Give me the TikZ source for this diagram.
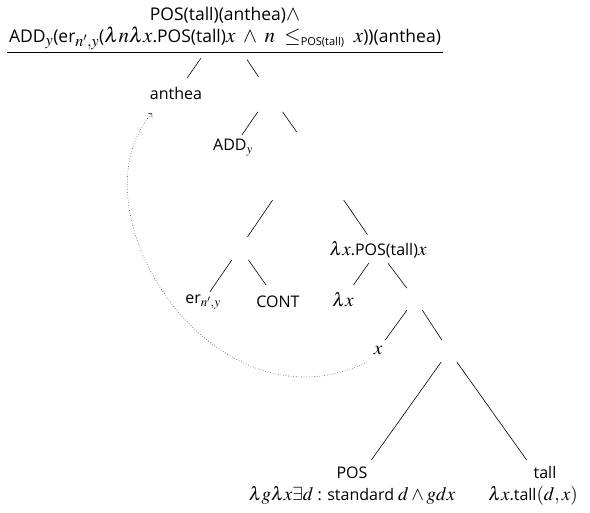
\documentclass[tikz,border=0pt]{standalone}
\usepackage{amsmath}
\usepackage{mathptmx}
\usepackage{fontspec}
\setmainfont{Open Sans}
\DeclareMathSizes{16}{19}{13}{10}
\DeclareMathSizes{17.5}{21}{16}{12}
\usetikzlibrary{calc,arrows.meta}
\newcommand{\possub}{\mbox{\fontsize{11}{11}\selectfont POS(tall)}}
\newcommand{\rootfont}{\fontsize{17.5}{22.5}\selectfont\lineskiplimit=-30pt\relax}
\begin{document}
\begin{tikzpicture}[x=1pt,y=-1pt,
  lbl/.style={inner sep=0pt, font=\fontsize{16}{22}\selectfont, align=center},
  branch/.style={line width=0.6pt},
  trace/.style={dotted, line width=0.6pt, black!75, -{Straight Barb[length=2.5pt,width=5pt]}}]
\useasboundingbox (0,0) rectangle (590,513);
% tree points
\coordinate (R) at (224,25);
\coordinate (A) at (176,94);
\coordinate (N1) at (270,94);
\coordinate (AD) at (233,148);
\coordinate (N2) at (308,148);
\coordinate (N3) at (240,248);
\coordinate (N4) at (378,250);
\coordinate (ER) at (203,302);
\coordinate (CT) at (278,302);
\coordinate (LX) at (343,300);
\coordinate (N5) at (415,299);
\coordinate (X) at (378,350);
\coordinate (N6) at (449,351);
\coordinate (PS) at (355,483);
\coordinate (TL) at (543,483);
% labels
\node[lbl, font=\rootfont, anchor=south] (root) at (225,50) {POS(tall)(anthea)$\wedge$\\ADD$_y$(er$_{n',y}$($\lambda n\lambda x$.POS(tall)$x\;\wedge\; n\;\leq_{\possub}\;x$))(anthea)};
\draw[branch] ([xshift=-2pt,yshift=-2pt]root.south west) -- ([xshift=2pt,yshift=-2pt]root.south east);
\node[lbl] (anthea) at (A) {anthea};
\node[lbl] (add) at (AD) {ADD$_y$};
\node[lbl] (er) at (ER) {er$_{n',y}$};
\node[lbl] (cont) at (CT) {CONT};
\node[lbl] (lxpos) at (N4) {$\lambda x$.POS(tall)$x$};
\node[lbl] (lx) at (LX) {$\lambda x$};
\node[lbl] (x) at (X) {$x$};
\node[lbl] (pos) at (352,486) {POS\\$\lambda g\lambda x\exists d$ : standard $d\wedge gdx$};
\node[lbl] (tall) at (533,486) {\hspace*{24pt}tall\\$\lambda x$.tall$(d,x)$};
% branches
\draw[branch] ($(R)!.48!(A)$) -- ($(R)!.77!(A)$);
\draw[branch] ($(R)!.50!(N1)$) -- ($(R)!.75!(N1)$);
\draw[branch] ($(N1)!.33!(AD)$) -- ($(N1)!.76!(AD)$);
\draw[branch] ($(N1)!.33!(N2)$) -- ($(N1)!.70!(N2)$);
\draw[branch] ($(N2)!.52!(N3)$) -- ($(N2)!.89!(N3)$);
\draw[branch] ($(N2)!.51!(N4)$) -- ($(N2)!.85!(N4)$);
\draw[branch] ($(N3)!.22!(ER)$) -- ($(N3)!.815!(ER)$);
\draw[branch] ($(N3)!.22!(CT)$) -- ($(N3)!.685!(CT)$);
\draw[branch] ($(N4)!.26!(LX)$) -- ($(N4)!.70!(LX)$);
\draw[branch] ($(N4)!.27!(N5)$) -- ($(N4)!.78!(N5)$);
\draw[branch] ($(N5)!.22!(X)$) -- ($(N5)!.80!(X)$);
\draw[branch] ($(N5)!.21!(N6)$) -- ($(N5)!.79!(N6)$);
\draw[branch] ($(N6)!.083!(PS)$) -- ($(N6)!.826!(PS)$);
\draw[branch] ($(N6)!.083!(TL)$) -- ($(N6)!.826!(TL)$);
% movement trace
\draw[trace] ($(x.center)+(-11,12)$) .. controls +(-152,75) and +(-84,99) .. ($(anthea.center)+(-24,19)$);
\end{tikzpicture}
\end{document}
